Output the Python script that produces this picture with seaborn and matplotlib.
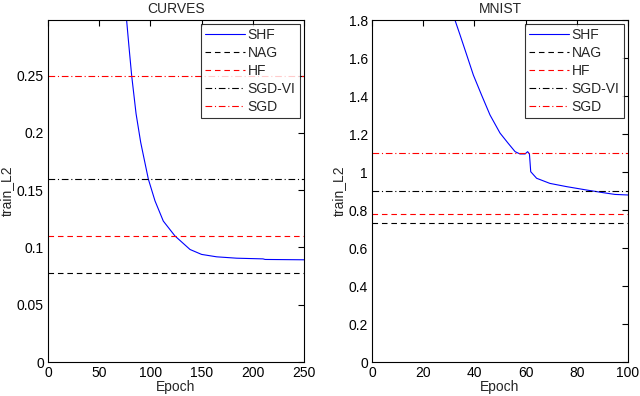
import numpy as np
import pandas as pd
import matplotlib
matplotlib.use("Agg")
import matplotlib.pyplot as plt
import seaborn as sns

# ========== data ==========
curves_epoch = [72, 76.8, 79.1, 81.7, 86, 90.5, 93, 98, 104.5, 112.6, 124, 138.7, 150,
                164.7, 184.3, 210, 212, 251]
curves_shf = [0.34, 0.298, 0.275, 0.25, 0.2167, 0.1918, 0.181, 0.1596, 0.1406, 0.123, 0.110,
              0.0982, 0.0939, 0.0918, 0.0906, 0.0900, 0.0895, 0.0892]
curves_base = {"NAG": 0.078, "HF": 0.11, "SGD-VI": 0.16, "SGD": 0.25}

mnist_epoch = [30, 32.4, 34.4, 37, 39.6, 42.8, 46.1, 50, 53.2, 55.9, 57.8, 59.8, 60.8, 61.5,
               62, 64.3, 69.5, 76, 83.9, 90.4, 94.9, 100]
mnist_shf = [1.9, 1.8, 1.721, 1.616, 1.51, 1.405, 1.30, 1.205, 1.151, 1.107, 1.095, 1.095,
             1.107, 1.095, 1.0016, 0.967, 0.94, 0.923, 0.905, 0.891, 0.882, 0.879]
mnist_base = {"NAG": 0.73, "HF": 0.78, "SGD-VI": 0.9, "SGD": 1.1}

styles = {"NAG": ("k", (0, (5, 3.5))), "HF": ("r", (0, (5, 3.5))),
          "SGD-VI": ("k", (0, (6, 2.5, 1, 2.5))), "SGD": ("r", (0, (6, 2.5, 1, 2.5)))}

sns.set_style("white")
plt.rcParams["font.family"] = ["Liberation Sans", "DejaVu Sans"]
FS = 10

fig = plt.figure(figsize=(6.4, 3.96), dpi=100)
W, H = 640, 396
ax1 = fig.add_axes([48 / W, 34 / H, 256 / W, 342 / H])
ax2 = fig.add_axes([372 / W, 34 / H, 256 / W, 342 / H])


def panel(ax, epoch, shf, base, title, xlim, ylim, xticks, yticks, ylabels):
    df = pd.DataFrame({"Epoch": epoch, "train_L2": shf})
    sns.lineplot(data=df, x="Epoch", y="train_L2", ax=ax, color="b", lw=0.8, label="SHF")
    for name in ["NAG", "HF", "SGD-VI", "SGD"]:
        c, ls = styles[name]
        ax.axhline(base[name], color=c, ls=ls, lw=0.8, label=name)
    ax.set_xlim(*xlim)
    ax.set_ylim(*ylim)
    ax.set_xticks(xticks)
    ax.set_yticks(yticks)
    ax.set_yticklabels(ylabels)
    ax.tick_params(direction="in", length=4, width=0.8, top=True, right=True,
                   labelsize=FS, pad=3, colors="k")
    for s in ax.spines.values():
        s.set_visible(True)
        s.set_color("k")
        s.set_linewidth(0.8)
    ax.set_xlabel("Epoch", fontsize=FS, labelpad=0)
    ax.set_ylabel("train_L2", fontsize=FS, labelpad=2)
    ax.set_title(title, fontsize=FS, pad=5)
    leg = ax.legend(loc="upper right", fontsize=FS, frameon=True, fancybox=False,
                    handlelength=2.9, handletextpad=0.2, labelspacing=0.28,
                    borderpad=0.3, borderaxespad=0.3)
    leg.get_frame().set_edgecolor("k")
    leg.get_frame().set_linewidth(0.8)


panel(ax1, curves_epoch, curves_shf, curves_base, "CURVES", (0, 250), (0, 0.2985),
      [0, 50, 100, 150, 200, 250], [0, 0.05, 0.1, 0.15, 0.2, 0.25],
      ["0", "0.05", "0.1", "0.15", "0.2", "0.25"])
panel(ax2, mnist_epoch, mnist_shf, mnist_base, "MNIST", (0, 100), (0, 1.8),
      [0, 20, 40, 60, 80, 100], [0, 0.2, 0.4, 0.6, 0.8, 1, 1.2, 1.4, 1.6, 1.8],
      ["0", "0.2", "0.4", "0.6", "0.8", "1", "1.2", "1.4", "1.6", "1.8"])

fig.savefig("out.png", dpi=100)
